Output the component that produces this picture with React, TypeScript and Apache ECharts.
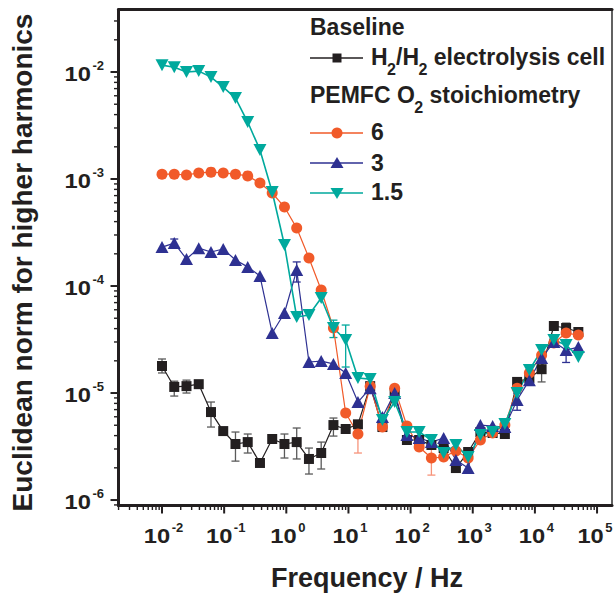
import React, { useEffect, useRef } from 'react';
import * as echarts from 'echarts';

// Frequencies (Hz), log-spaced measurement points from 0.01 Hz to 50 kHz
const frequencies = [
  0.01, 0.01574, 0.02477, 0.039, 0.06139, 0.09664, 0.1521, 0.2394, 0.3769, 0.5933,
  0.9339, 1.47, 2.314, 3.642, 5.733, 9.024, 14.21, 22.36, 35.19, 55.4,
  87.21, 137.3, 216.1, 340.1, 535.4, 842.8, 1327, 2088, 3287, 5174,
  8144, 12820, 20180, 31770, 50000,
];

// Baseline: H2/H2 electrolysis cell
const baselineH2 = [
  1.79e-5, 1.14e-5, 1.16e-5, 1.21e-5, 6.64e-6, 4.41e-6, 3.34e-6, 3.48e-6, 2.22e-6, 3.72e-6,
  3.34e-6, 3.48e-6, 2.42e-6, 2.75e-6, 5.02e-6, 4.61e-6, 5.1e-6, 1.16e-5, 4.81e-6, 1.0e-5,
  3.64e-6, 3.64e-6, 3.27e-6, 3.06e-6, 1.99e-6, 2.81e-6, 4.32e-6, 4.23e-6, 4.14e-6, 1.27e-5,
  1.38e-5, 1.67e-5, 4.23e-5, 4.05e-5, 3.72e-5,
];

// PEMFC O2 stoichiometry 6
const stoich6 = [
  1.11e-3, 1.11e-3, 1.09e-3, 1.14e-3, 1.16e-3, 1.14e-3, 1.11e-3, 1.07e-3, 9.18e-4, 7.4e-4,
  5.47e-4, 3.48e-4, 1.83e-4, 9.18e-5, 4.05e-5, 6.5e-6, 4.14e-6, 1.16e-5, 4.81e-6, 1.11e-5,
  4.92e-6, 3.13e-6, 2.47e-6, 2.52e-6, 2.87e-6, 2.47e-6, 3.64e-6, 4.23e-6, 5.02e-6, 1.11e-5,
  1.54e-5, 2.26e-5, 2.93e-5, 3.64e-5, 3.48e-5,
];

// PEMFC O2 stoichiometry 3
const stoich3 = [
  2.31e-4, 2.52e-4, 1.79e-4, 2.26e-4, 2.08e-4, 2.22e-4, 1.75e-4, 1.51e-4, 1.24e-4, 3.64e-5,
  5.6e-5, 1.41e-4, 1.95e-5, 1.99e-5, 1.87e-5, 1.54e-5, 8.24e-6, 1.11e-5, 5.97e-6, 1.0e-5,
  4.05e-6, 3.8e-6, 3.48e-6, 3.8e-6, 2.37e-6, 1.99e-6, 5.02e-6, 4.92e-6, 4.81e-6, 8.61e-6,
  1.32e-5, 2.12e-5, 3.0e-5, 2.52e-5, 2.69e-5,
];

// PEMFC O2 stoichiometry 1.5
const stoich15 = [
  1.16e-2, 1.11e-2, 1.0e-2, 1.02e-2, 8.98e-3, 7.24e-3, 5.71e-3, 3.41e-3, 1.87e-3, 7.57e-4,
  2.42e-4, 5.13e-5, 5.36e-5, 7.73e-5, 4.05e-5, 3.13e-5, 1.38e-5, 1.35e-5, 5.6e-6, 8.24e-6,
  4.32e-6, 4.32e-6, 3.64e-6, 2.75e-6, 3.27e-6, 2.52e-6, 4.05e-6, 4.32e-6, 5.13e-6, 1.0e-5,
  1.64e-5, 2.52e-5, 3.13e-5, 2.81e-5, 2.17e-5,
];

// Error bars: [point index, lower, upper]
const baselineErr = [
  [0, 1.54e-5, 2.08e-5], [1, 9.37e-6, 1.29e-5], [2, 1.0e-5, 1.32e-5], [4, 4.81e-6, 8.24e-6],
  [6, 2.31e-6, 4.32e-6], [7, 2.75e-6, 4.14e-6], [10, 2.47e-6, 4.14e-6], [11, 2.42e-6, 4.71e-6],
  [12, 1.75e-6, 3.06e-6], [13, 1.95e-6, 3.48e-6], [14, 3.96e-6, 5.84e-6], [31, 1.27e-5, 2.2e-5],
  [33, 3.4e-5, 4.5e-5],
];
const stoich6Err = [[16, 2.75e-6, 5.5e-6], [22, 1.71e-6, 3.3e-6]];
const stoich3Err = [[1, 2.3e-4, 2.75e-4], [11, 1.09e-4, 1.68e-4], [29, 6.9e-6, 1.0e-5], [33, 1.93e-5, 2.9e-5]];
const stoich15Err = [[14, 3.3e-5, 4.8e-5], [15, 1.75e-5, 4.32e-5]];

// Axis decades (tick labels are 10^n)
const xDecades = [-2, -1, 0, 1, 2, 3, 4, 5];
const yDecades = [-6, -5, -4, -3, -2];
const minorMultipliers = [2, 3, 4, 5, 6, 7, 8, 9];

const X_MIN = 0.001995;
const X_MAX = 174000;
const Y_MIN = 8.89e-7;
const Y_MAX = 0.0384;

const FONT = '"Liberation Sans", Arial, Helvetica, sans-serif';
const INK = '#231f20';
const ORANGE = '#f15a29';
const BLUE = '#2e3192';
const TEAL = '#00a99d';

function buildTicks(decades: number[], lo: number, hi: number) {
  const ticks: number[][] = [];
  const all = [decades[0] - 1, ...decades];
  all.forEach((d) => {
    const base = Math.pow(10, d);
    if (base >= lo && base <= hi) ticks.push([base, 1]);
    minorMultipliers.forEach((m) => {
      const v = m * base;
      if (v >= lo && v <= hi) ticks.push([v, 0]);
    });
  });
  return ticks;
}

function errorSeries(name: string, errs: number[][], color: string) {
  return {
    type: 'custom',
    name,
    clip: false,
    silent: true,
    z: 2,
    data: errs.map(([i, lo, hi]) => [frequencies[i], lo, hi]),
    encode: { x: 0, y: [1, 2] },
    renderItem: (params: any, api: any) => {
      const x = api.value(0);
      const lo = api.coord([x, api.value(1)]);
      const hi = api.coord([x, api.value(2)]);
      const st = { stroke: color, lineWidth: 1.3 };
      return {
        type: 'group',
        children: [
          { type: 'line', shape: { x1: lo[0], y1: lo[1], x2: hi[0], y2: hi[1] }, style: st },
          { type: 'line', shape: { x1: lo[0] - 4, y1: lo[1], x2: lo[0] + 4, y2: lo[1] }, style: st },
          { type: 'line', shape: { x1: hi[0] - 4, y1: hi[1], x2: hi[0] + 4, y2: hi[1] }, style: st },
        ],
      };
    },
  };
}

function lineSeries(name: string, values: number[], color: string, symbol: string, size: any, rotate: number, width: number) {
  return {
    type: 'line',
    name,
    data: frequencies.map((f, i) => [f, values[i]]),
    symbol,
    symbolSize: size,
    symbolRotate: rotate,
    showSymbol: true,
    itemStyle: { color, borderWidth: 0 },
    lineStyle: { color, width },
    z: 3,
    emphasis: { disabled: true },
  };
}

export default function App() {
  const ref = useRef<HTMLDivElement>(null);

  useEffect(() => {
    if (!ref.current) return;
    const chart = echarts.init(ref.current, undefined, { renderer: 'svg' });

    const canvas = document.createElement('canvas');
    const ctx = canvas.getContext('2d') as CanvasRenderingContext2D;
    const measure = (t: string, size: number) => {
      ctx.font = `bold ${size}px "Liberation Sans", Arial, sans-serif`;
      return ctx.measureText(t).width;
    };

    const LABEL_SIZE = 21;
    const EXP_SIZE = 13;
    const LABEL_SCALE = 1.13;
    const w10 = measure('10', LABEL_SIZE) * LABEL_SCALE;

    const xTicks = buildTicks(xDecades, X_MIN, X_MAX);
    const yTicks = buildTicks(yDecades, Y_MIN, Y_MAX);

    const tickStyle = (major: boolean) => ({ stroke: INK, lineWidth: major ? 2 : 1.4 });

    const xTickSeries = {
      type: 'custom',
      clip: false,
      silent: true,
      z: 10,
      data: xTicks.map(([v, m]) => [v, Y_MIN, m]),
      renderItem: (params: any, api: any) => {
        const cs = params.coordSys;
        const px = api.coord([api.value(0), Y_MIN])[0];
        const bottom = cs.y + cs.height;
        const major = api.value(2) === 1;
        return {
          type: 'line',
          shape: { x1: px, y1: bottom, x2: px, y2: bottom + (major ? 8 : 4.5) },
          style: tickStyle(major),
        };
      },
    };

    const yTickSeries = {
      type: 'custom',
      clip: false,
      silent: true,
      z: 10,
      data: yTicks.map(([v, m]) => [X_MIN, v, m]),
      renderItem: (params: any, api: any) => {
        const cs = params.coordSys;
        const py = api.coord([X_MIN, api.value(1)])[1];
        const left = cs.x;
        const major = api.value(2) === 1;
        return {
          type: 'line',
          shape: { x1: left - (major ? 8 : 4.5), y1: py, x2: left, y2: py },
          style: tickStyle(major),
        };
      },
    };

    const xLabelSeries = {
      type: 'custom',
      clip: false,
      silent: true,
      z: 10,
      data: xDecades.map((d) => [Math.pow(10, d), Y_MIN]),
      renderItem: (params: any, api: any) => {
        const cs = params.coordSys;
        const px = api.coord([api.value(0), Y_MIN])[0];
        const bottom = cs.y + cs.height;
        const exp = String(xDecades[params.dataIndex]);
        const wExp = measure(exp, EXP_SIZE);
        const total = w10 + 1.5 + wExp;
        let right10 = px - total / 2 + w10 + 1.5;
        const limit = 612.5;
        if (right10 + 1.5 + wExp > limit) right10 = limit - 1.5 - wExp;
        return {
          type: 'group',
          children: [
            {
              type: 'text', x: right10, y: bottom + 30, scaleX: LABEL_SCALE,
              style: { text: '10', fill: INK, font: `bold ${LABEL_SIZE}px ${FONT}`, textAlign: 'right', textVerticalAlign: 'middle' },
            },
            {
              type: 'text', x: right10 + 1.5, y: bottom + 22,
              style: { text: exp, fill: INK, font: `bold ${EXP_SIZE}px ${FONT}`, textAlign: 'left', textVerticalAlign: 'middle' },
            },
          ],
        };
      },
    };

    const yLabelSeries = {
      type: 'custom',
      clip: false,
      silent: true,
      z: 10,
      data: yDecades.map((d) => [X_MIN, Math.pow(10, d)]),
      renderItem: (params: any, api: any) => {
        const cs = params.coordSys;
        const py = api.coord([X_MIN, api.value(1)])[1];
        const right10 = cs.x - 27.5;
        const exp = String(yDecades[params.dataIndex]);
        return {
          type: 'group',
          children: [
            {
              type: 'text', x: right10, y: py + 1.5, scaleX: LABEL_SCALE,
              style: { text: '10', fill: INK, font: `bold ${LABEL_SIZE}px ${FONT}`, textAlign: 'right', textVerticalAlign: 'middle' },
            },
            {
              type: 'text', x: right10 + 1.5, y: py - 6.5,
              style: { text: exp, fill: INK, font: `bold ${EXP_SIZE}px ${FONT}`, textAlign: 'left', textVerticalAlign: 'middle' },
            },
          ],
        };
      },
    };

    // Legend (drawn as graphic elements)
    const LG = 23;
    const SUB = 16;
    const lgFont = `bold ${LG}px ${FONT}`;
    const subFont = `bold ${SUB}px ${FONT}`;
    const txt = (text: string, x: number, y: number, font = lgFont) => ({
      type: 'text', x, y, silent: true,
      style: { text, fill: INK, font, textAlign: 'left', textVerticalAlign: 'middle' },
    });
    const richRow = (pieces: [string, boolean][], x0: number, y: number) => {
      const out: any[] = [];
      let x = x0;
      pieces.forEach(([t, sub]) => {
        if (sub) {
          out.push(txt(t, x - 0.5, y + 12, subFont));
          x += measure(t, SUB) - 0.5;
        } else {
          out.push(txt(t, x, y));
          x += measure(t, LG);
        }
      });
      return out;
    };
    const legendLine = (y: number, color: string) => ({
      type: 'line', silent: true,
      shape: { x1: 310, y1: y, x2: 363, y2: y },
      style: { stroke: color, lineWidth: 1.3 },
    });
    const MX = 337;

    const graphic: any[] = [
      txt('Baseline', 310, 27),
      legendLine(58, INK),
      { type: 'rect', silent: true, shape: { x: MX - 4.5, y: 58 - 4.5, width: 9, height: 9 }, style: { fill: INK } },
      ...richRow([['H', false], ['2', true], ['/H', false], ['2', true], [' electrolysis cell', false]], 371, 57),
      ...richRow([['PEMFC O', false], ['2', true], [' stoichiometry', false]], 310, 95),
      legendLine(133, ORANGE),
      { type: 'circle', silent: true, shape: { cx: MX, cy: 133, r: 5.5 }, style: { fill: ORANGE } },
      txt('6', 371, 132),
      legendLine(163, BLUE),
      { type: 'polygon', silent: true, shape: { points: [[MX, 157], [MX + 6.5, 168], [MX - 6.5, 168]] }, style: { fill: BLUE } },
      txt('3', 371, 162.5),
      legendLine(193, TEAL),
      { type: 'polygon', silent: true, shape: { points: [[MX - 6.5, 188], [MX + 6.5, 188], [MX, 199]] }, style: { fill: TEAL } },
      txt('1.5', 371, 192),
      {
        type: 'text', x: 22, y: 262.5, rotation: Math.PI / 2, silent: true,
        style: { text: 'Euclidean norm for higher harmonics', fill: INK, font: `bold 28px ${FONT}`, textAlign: 'center', textVerticalAlign: 'middle' },
      },
      {
        type: 'text', x: 367, y: 577.5, silent: true,
        style: { text: 'Frequency / Hz', fill: INK, font: `bold 27px ${FONT}`, textAlign: 'center', textVerticalAlign: 'middle' },
      },
    ];

    const hiddenAxisParts = {
      axisTick: { show: false },
      axisLabel: { show: false },
      splitLine: { show: false },
      minorTick: { show: false },
      minorSplitLine: { show: false },
    };

    chart.setOption({
      animation: false,
      backgroundColor: '#ffffff',
      grid: { left: 118.5, right: 2, top: 9.5, bottom: 92.5, containLabel: false },
      xAxis: [
        {
          type: 'log', min: X_MIN, max: X_MAX, position: 'bottom',
          axisLine: { show: true, lineStyle: { color: INK, width: 3 } },
          ...hiddenAxisParts,
        },
        {
          type: 'log', min: X_MIN, max: X_MAX, position: 'top',
          axisLine: { show: true, lineStyle: { color: INK, width: 3 } },
          ...hiddenAxisParts,
        },
      ],
      yAxis: [
        {
          type: 'log', min: Y_MIN, max: Y_MAX, position: 'left',
          axisLine: { show: true, lineStyle: { color: INK, width: 3 } },
          ...hiddenAxisParts,
        },
        {
          type: 'log', min: Y_MIN, max: Y_MAX, position: 'right',
          axisLine: { show: true, lineStyle: { color: '#3a3a3a', width: 1.6 } },
          ...hiddenAxisParts,
        },
      ],
      series: [
        errorSeries('err-baseline', baselineErr, '#5a5a5a'),
        errorSeries('err-6', stoich6Err, '#f7937a'),
        errorSeries('err-3', stoich3Err, BLUE),
        errorSeries('err-1.5', stoich15Err, TEAL),
        lineSeries('H2/H2 electrolysis cell', baselineH2, INK, 'rect', 10, 0, 1.2),
        lineSeries('6', stoich6, ORANGE, 'circle', 11, 0, 1.2),
        lineSeries('3', stoich3, BLUE, 'triangle', [13, 12], 0, 1.2),
        lineSeries('1.5', stoich15, TEAL, 'triangle', [13, 12], 180, 1.6),
        xTickSeries,
        yTickSeries,
        xLabelSeries,
        yLabelSeries,
      ],
      graphic,
    });

    return () => {
      chart.dispose();
    };
  }, []);

  return (
    <div
      ref={ref}
      style={{ position: 'fixed', left: 0, top: 0, width: 614, height: 598, background: '#fff' }}
    />
  );
}
